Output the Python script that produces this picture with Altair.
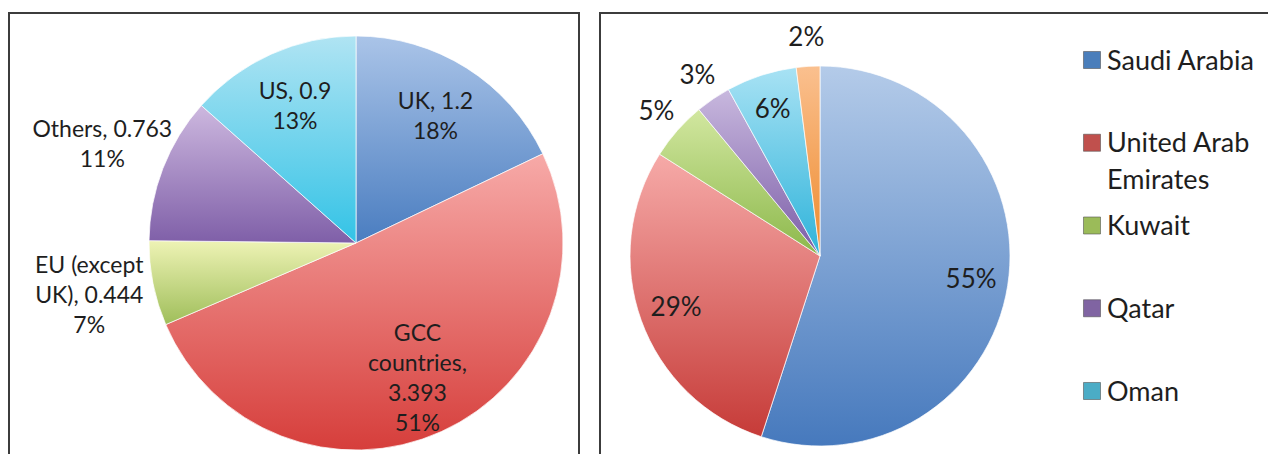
import math
import altair as alt
import pandas as pd

# ---- data ----
left_names = ["UK", "GCC countries", "EU (except UK)", "Others", "US"]
left_values = [1.2, 3.393, 0.444, 0.763, 0.9]
left_labels = ["UK, 1.2\n18%", "GCC\ncountries,\n3.393\n51%", "EU (except\nUK), 0.444\n7%",
               "Others, 0.763\n11%", "US, 0.9\n13%"]
left_outside = ["EU (except UK)", "Others"]

right_names = ["Saudi Arabia", "United Arab Emirates", "Kuwait", "Qatar", "Oman", "Bahrain"]
right_values = [55, 29, 5, 3, 6, 2]
right_outside = ["Kuwait", "Qatar", "Bahrain"]

legend_names = ["Saudi Arabia", "United Arab Emirates", "Kuwait", "Qatar", "Oman"]
legend_texts = ["Saudi Arabia", "United Arab\nEmirates", "Kuwait", "Qatar", "Oman"]

# ---- styles ----
left_grads = [("#aac4e8", "#4a7dc0"), ("#f7aaa8", "#d63e3b"), ("#eef3b5", "#9fbe5a"),
              ("#cdb8df", "#7f5fa8"), ("#b0e4f3", "#33c3e6")]
right_grads = [("#b4cbe9", "#4679bd"), ("#f6aaa8", "#c63b38"), ("#d2e7a0", "#8cb84b"),
               ("#c8b8de", "#7b5da7"), ("#a8e2f4", "#2eb3da"), ("#fac08f", "#ee8a2c")]
legend_colors = ["#4a7ebb", "#c0504d", "#9bbb59", "#8064a2", "#4bacc6"]
FONT = "Lato"
TXT = "#1e1e1e"
LFS, LLH = 23, 30

left_df = pd.DataFrame({"name": left_names, "value": left_values, "label": left_labels,
                        "order": list(range(len(left_names)))})
right_df = pd.DataFrame({"name": right_names, "value": right_values,
                         "order": list(range(len(right_names)))})
legend_df = pd.DataFrame({"name": legend_names, "text": legend_texts})
box_df = pd.DataFrame({"k": [0]})

theta_scale = alt.Scale(domain=[0, 1], range=[0, 2 * math.pi])


def angled(df):
    return (alt.Chart(df)
            .transform_joinaggregate(total="sum(value)")
            .transform_window(cum="sum(value)", sort=[alt.SortField("order", order="ascending")],
                              frame=[None, 0])
            .transform_calculate(start="(datum.cum - datum.value) / datum.total",
                                 end="datum.cum / datum.total",
                                 mid="(datum.cum - datum.value / 2) / datum.total",
                                 pct="format(datum.value / datum.total * 100, '.0f') + '%'"))


def grad(c1, c2):
    return {"gradient": "linear", "x1": 0, "y1": 0, "x2": 0, "y2": 1,
            "stops": [{"offset": 0, "color": c1}, {"offset": 1, "color": c2}]}


def slices(df, names, grads, cx, cy, r):
    out = []
    for n, (c1, c2) in zip(names, grads):
        out.append(
            angled(df).transform_filter(alt.datum.name == n)
            .mark_arc(outerRadius=r, fill=grad(c1, c2), stroke="#ffffff", strokeWidth=1,
                      strokeOpacity=0.7)
            .encode(x=alt.value(cx), y=alt.value(cy),
                    theta=alt.Theta("start:Q", scale=theta_scale, stack=False),
                    theta2="end:Q")
        )
    return out


def box(x1, x2):
    return (alt.Chart(box_df)
            .mark_rect(fill="#ffffff", stroke="#3c3c3c", strokeWidth=2)
            .encode(x=alt.value(x1), x2=alt.value(x2), y=alt.value(13), y2=alt.value(520)))


LCX, LCY, LR = 356, 243, 207
RCX, RCY, RR = 820, 256, 190

layers = [box(9, 579), box(600, 1320)]
layers += slices(left_df, left_names, left_grads, LCX, LCY, LR)
layers += slices(right_df, right_names, right_grads, RCX, RCY, RR)

# left pie labels: one layer per label so each multi-line block is centred on its anchor
for n, lab in zip(left_names, left_labels):
    nlines = lab.count("\n") + 1
    rad = 272 if n in left_outside else 149
    layers.append(
        angled(left_df).transform_filter(alt.datum.name == n)
        .mark_text(radius=rad, dy=-(nlines - 1) * LLH / 2, font=FONT, fontSize=LFS,
                   lineHeight=LLH, lineBreak="\n", align="center", baseline="middle", color=TXT)
        .encode(x=alt.value(LCX), y=alt.value(LCY),
                theta=alt.Theta("mid:Q", scale=theta_scale, stack=False), text="label:N")
    )

# right pie labels
layers.append(
    angled(right_df).transform_filter(~alt.FieldOneOfPredicate(field="name", oneOf=right_outside))
    .mark_text(radius=153, font=FONT, fontSize=26, align="center", baseline="middle", color=TXT)
    .encode(x=alt.value(RCX), y=alt.value(RCY),
            theta=alt.Theta("mid:Q", scale=theta_scale, stack=False), text="pct:N")
)
layers.append(
    angled(right_df).transform_filter(alt.FieldOneOfPredicate(field="name", oneOf=right_outside))
    .mark_text(radius=218, font=FONT, fontSize=26, align="center", baseline="middle", color=TXT)
    .encode(x=alt.value(RCX), y=alt.value(RCY),
            theta=alt.Theta("mid:Q", scale=theta_scale, stack=False), text="pct:N")
)

# legend
leg_y = alt.Y("name:N", scale=alt.Scale(type="point", domain=legend_names, range=[60, 391],
                                        padding=0), axis=None)
layers.append(
    alt.Chart(legend_df).mark_square(size=290, opacity=1, stroke="#555555", strokeWidth=0.6)
    .encode(x=alt.value(1092), y=leg_y,
            color=alt.Color("name:N", scale=alt.Scale(domain=legend_names, range=legend_colors),
                            legend=None))
)
layers.append(
    alt.Chart(legend_df).mark_text(align="left", baseline="alphabetic", dy=9.5, font=FONT,
                                   fontSize=27, lineHeight=37, lineBreak="\n", color=TXT)
    .encode(x=alt.value(1107), y=leg_y, text="text:N")
)

chart = (alt.layer(*layers)
         .properties(width=1268, height=454, padding=0, autosize=alt.AutoSizeParams(type="none"))
         .configure_view(stroke=None))

chart.save("out.html", embed_options={"renderer": "svg", "actions": False})
